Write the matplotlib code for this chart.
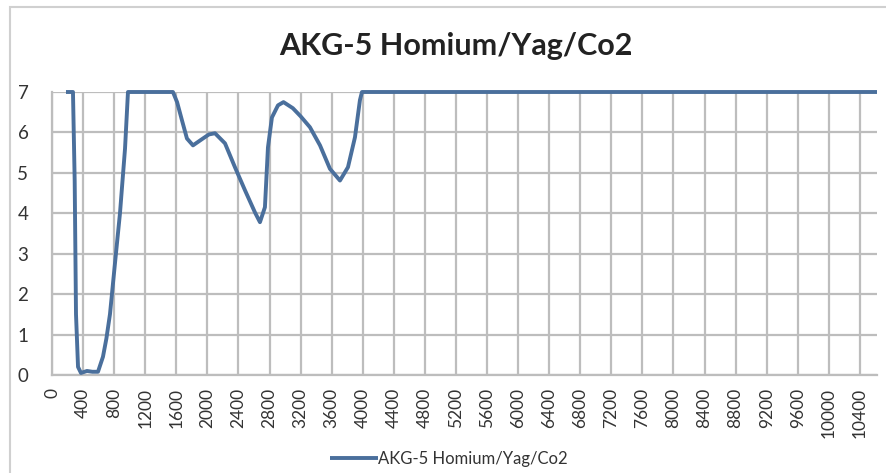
import matplotlib.pyplot as plt
from matplotlib.patches import Rectangle

# values
freq = [180, 270, 292, 309, 335, 373, 450, 520, 592, 656, 700, 746, 811, 875, 940, 978,
        1557, 1610, 1673, 1737, 1815, 1943, 2020, 2098, 2227, 2355, 2484, 2613, 2677,
        2741, 2780, 2831, 2909, 2980, 3100, 3200, 3320, 3450, 3578, 3707, 3810, 3900,
        3964, 3990, 10620]
value = [7.0, 7.0, 4.8, 1.5, 0.2, 0.05, 0.1, 0.08, 0.08, 0.45, 0.9, 1.5, 2.77, 4.0, 5.6, 7.0,
         7.0, 6.75, 6.3, 5.85, 5.68, 5.85, 5.95, 5.98, 5.73, 5.14, 4.57, 4.02, 3.78,
         4.15, 5.63, 6.37, 6.67, 6.75, 6.6, 6.4, 6.13, 5.68, 5.1, 4.81, 5.14, 5.88,
         6.8, 7.0, 7.0]
xticks = list(range(0, 10401, 400))
yticks = list(range(0, 8))
label = 'AKG-5 Homium/Yag/Co2'

plt.rcParams['font.family'] = ['Lato', 'DejaVu Sans']

fig = plt.figure(figsize=(8.86, 4.73), dpi=100)
ax = fig.add_axes([52 / 886, 1 - 375 / 473, 825 / 886, 283 / 473])

# outer chart border like excel
fig.patches.append(Rectangle((10 / 886, -0.1), 1.0, 1 - 7 / 473 + 0.1,
                             transform=fig.transFigure, fill=False,
                             edgecolor='#d0d0d0', linewidth=1.5))

ax.plot(freq, value, color='#4a6f9c', linewidth=2.8, solid_joinstyle='round',
        solid_capstyle='butt', clip_on=False, label=label, zorder=3)

ax.set_xlim(0, 10620)
ax.set_ylim(0, 7)
ax.set_xticks(xticks)
ax.set_xticklabels([str(t) for t in xticks], rotation=90, fontsize=12.5, color='#333333')
ax.set_yticks(yticks)
ax.set_yticklabels([str(t) for t in yticks], fontsize=13.5, color='#333333')
ax.tick_params(axis='x', length=0, pad=9)
ax.tick_params(axis='y', length=0, pad=17)
ax.grid(True, color='#bdbdbd', linewidth=1.6)
ax.set_axisbelow(True)
for side in ['top', 'right']:
    ax.spines[side].set_visible(False)
ax.spines['left'].set_color('#bdbdbd')
ax.spines['bottom'].set_color('#bdbdbd')
ax.spines['left'].set_linewidth(1.6)
ax.spines['bottom'].set_linewidth(1.6)

fig.text(456 / 886, 1 - 46 / 473, label, ha='center', va='center',
         fontsize=22, fontweight='bold', color='#222222')

fig.legend(loc='center', bbox_to_anchor=(449 / 886, 1 - 459 / 473), frameon=False,
           fontsize=12, handlelength=2.9, handletextpad=0.0,
           labelcolor='#333333')

fig.savefig('out.png', dpi=100)
